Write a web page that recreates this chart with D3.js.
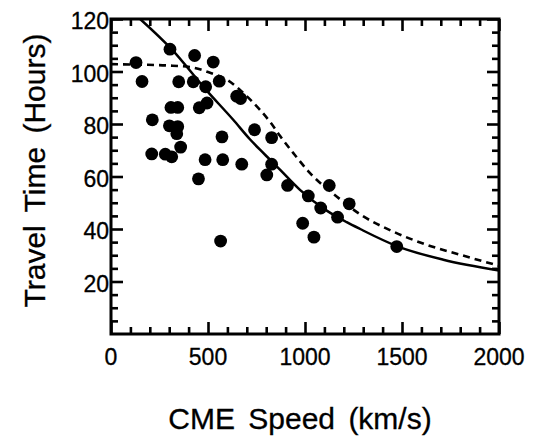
<!DOCTYPE html>
<html>
<head>
<meta charset="utf-8">
<script src="https://cdn.jsdelivr.net/npm/d3@7"></script>
<style>
  html, body { margin: 0; padding: 0; background: #fff; }
  svg { display: block; }
</style>
</head>
<body>
<svg id="chart" width="536" height="438"></svg>
<script>
// ---- data ----
const speeds = [129,304,431,527,160,349,424,488,558,648,668,309,344,455,495,213,301,344,339,740,828,572,359,210,280,313,485,576,674,828,803,451,910,1017,1125,1081,1228,1168,988,1046,1473,565];
const times  = [103.4,108.5,106.1,103.6,96.2,96.1,96.1,94.2,96.3,90.6,89.7,86.3,86.3,86.2,88,81.6,79.3,79,76.3,77.8,74.8,75.1,71.2,68.6,68.5,67.5,66.4,66.4,64.7,64.7,60.6,59.1,56.6,52.6,56.6,48,49.6,44.5,42.2,36.9,33.3,35.4];

const solidSpeed = [150,311,490,630,716,768,820,871,974,1112,1215,1284,1473,1713,2000];
const solidTime  = [120,108.6,93,81.6,74.2,70.2,66.4,62.6,54.9,47.0,42.6,40.0,33.5,28.3,24.2];

const dashSpeed = [0,156,294,414,500,603,682,768,820,871,940,1026,1163,1284,1455,1627,1799,2000];
const dashTime  = [102.8,102.6,102.3,101.6,99.8,96.6,91.8,85.4,80.8,75.5,68.9,61.3,52.4,45.6,39,34,30.2,26];

const xMajor = [0,500,1000,1500,2000];
const yMajor = [20,40,60,80,100,120];
const xTitle = "CME Speed (km/s)";
const yTitle = "Travel Time (Hours)";

// ---- layout ----
const L = 111, R = 499, T = 19, B = 334;
const svg = d3.select("#chart");
const x = d3.scaleLinear().domain([0,2000]).range([L,R]);
const y = d3.scaleLinear().domain([0,120]).range([B,T]);

const xMinor = d3.range(0,2001,100).filter(v => v % 500 !== 0);
const yMinor = d3.range(0,121,5).filter(v => v % 20 !== 0);

const font = "Liberation Sans, Arial, sans-serif";

function tickAxis(axisFn, scale, vals, size, transform) {
  const g = svg.append("g").attr("transform", transform)
    .call(axisFn(scale).tickValues(vals).tickSize(size).tickFormat(""));
  g.select(".domain").remove();
  g.selectAll(".tick line").attr("stroke","#000").attr("stroke-width",2.6);
  g.selectAll(".tick text").remove();
  return g;
}
// ticks on all four sides, pointing inward
tickAxis(d3.axisBottom, x, xMajor, -12, `translate(0,${B})`);
tickAxis(d3.axisBottom, x, xMinor, -7, `translate(0,${B})`);
tickAxis(d3.axisTop, x, xMajor, -12, `translate(0,${T})`);
tickAxis(d3.axisTop, x, xMinor, -7, `translate(0,${T})`);
tickAxis(d3.axisLeft, y, yMajor, -12, `translate(${L},0)`);
tickAxis(d3.axisLeft, y, yMinor, -7, `translate(${L},0)`);
tickAxis(d3.axisRight, y, yMajor, -12, `translate(${R},0)`);
tickAxis(d3.axisRight, y, yMinor, -7, `translate(${R},0)`);

// tick labels
svg.append("g").selectAll("text").data(xMajor).join("text")
  .attr("x", d => x(d)).attr("y", 365)
  .attr("text-anchor","middle")
  .attr("font-family", font).attr("font-size", 23)
  .attr("stroke","#000").attr("stroke-width",0.3)
  .text(d => d);
svg.append("g").selectAll("text").data(yMajor).join("text")
  .attr("x", L - 2).attr("y", d => y(d) + 10)
  .attr("text-anchor","end")
  .attr("font-family", font).attr("font-size", 23)
  .attr("stroke","#000").attr("stroke-width",0.3)
  .text(d => d);

// clip
svg.append("clipPath").attr("id","clip").append("rect")
  .attr("x",L).attr("y",T).attr("width",R-L).attr("height",B-T);

const line = d3.line().x(d => x(d[0])).y(d => y(d[1])).curve(d3.curveMonotoneX);

svg.append("path")
  .datum(solidSpeed.map((s,i) => [s, solidTime[i]]))
  .attr("d", line).attr("fill","none").attr("stroke","#000")
  .attr("stroke-width",2.5).attr("clip-path","url(#clip)");

svg.append("path")
  .datum(dashSpeed.map((s,i) => [s, dashTime[i]]))
  .attr("d", line).attr("fill","none").attr("stroke","#000")
  .attr("stroke-width",2.6).attr("stroke-dasharray","7,5")
  .attr("clip-path","url(#clip)");

// points
svg.append("g").selectAll("circle").data(speeds.map((s,i) => [s, times[i]])).join("circle")
  .attr("cx", d => x(d[0])).attr("cy", d => y(d[1])).attr("r", 6.4).attr("fill","#000");

// frame
svg.append("rect").attr("x",L).attr("y",T).attr("width",R-L).attr("height",B-T)
  .attr("fill","none").attr("stroke","#000").attr("stroke-width",3);

// titles
svg.append("text").attr("x", 300).attr("y", 429)
  .attr("text-anchor","middle").attr("font-family", font).attr("font-size", 30)
  .attr("word-spacing", 5).attr("stroke","#000").attr("stroke-width",0.3)
  .text(xTitle);
svg.append("text").attr("transform", `translate(45,${(T+B)/2 - 6}) rotate(-90)`)
  .attr("text-anchor","middle").attr("font-family", font).attr("font-size", 30)
  .attr("word-spacing", 5).attr("stroke","#000").attr("stroke-width",0.3)
  .text(yTitle);
</script>
</body>
</html>
